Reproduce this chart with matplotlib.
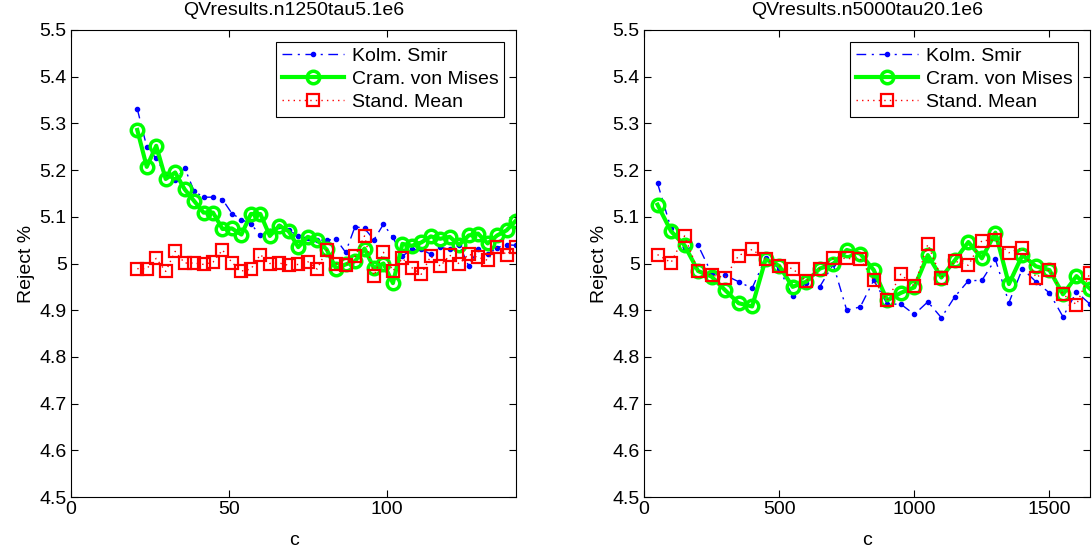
import matplotlib
matplotlib.use("Agg")
import matplotlib.pyplot as plt
from matplotlib.ticker import FormatStrFormatter

plt.rcParams['font.family'] = ['Liberation Sans', 'DejaVu Sans']

# left panel: n1250 tau5, c = 21, 24, ..., 141
c1 = [21, 24, 27, 30, 33, 36, 39, 42, 45, 48, 51, 54, 57, 60, 63, 66, 69, 72, 75, 78, 81,
      84, 87, 90, 93, 96, 99, 102, 105, 108, 111, 114, 117, 120, 123, 126, 129, 132, 135, 138, 141]
ks1 = [5.331, 5.250, 5.225, 5.190, 5.178, 5.205, 5.155, 5.142, 5.142, 5.137, 5.107, 5.094,
       5.085, 5.060, 5.070, 5.080, 5.072, 5.058, 5.055, 5.050, 5.050, 5.052, 5.024, 5.079,
       5.075, 5.051, 5.084, 5.056, 5.016, 5.030, 5.030, 5.020, 5.035, 5.030, 5.040, 4.995,
       5.030, 5.020, 5.034, 5.040, 5.039]
cvm1 = [5.286, 5.207, 5.252, 5.181, 5.195, 5.159, 5.134, 5.109, 5.109, 5.074, 5.075, 5.062,
        5.106, 5.106, 5.059, 5.081, 5.069, 5.035, 5.057, 5.050, 5.030, 4.989, 4.998, 5.005,
        5.032, 4.990, 5.000, 4.958, 5.042, 5.038, 5.045, 5.058, 5.053, 5.057, 5.040, 5.060,
        5.064, 5.043, 5.060, 5.071, 5.092]
sm1 = [4.989, 4.989, 5.011, 4.983, 5.026, 5.001, 5.001, 4.998, 5.003, 5.029, 5.002, 4.984,
       4.988, 5.019, 5.000, 5.001, 4.996, 4.998, 5.004, 4.988, 5.029, 5.000, 4.996, 5.015,
       5.059, 4.974, 5.024, 4.984, 5.011, 4.991, 4.977, 5.016, 4.994, 5.018, 4.999, 5.020,
       5.013, 5.007, 5.036, 5.019, 5.036]

# right panel: n5000 tau20, c = 50, 100, ..., 1650
c2 = [50, 100, 150, 200, 250, 300, 350, 400, 450, 500, 550, 600, 650, 700, 750, 800, 850,
      900, 950, 1000, 1050, 1100, 1150, 1200, 1250, 1300, 1350, 1400, 1450, 1500, 1550, 1600, 1650]
ks2 = [5.172, 5.075, 5.030, 5.039, 4.979, 4.975, 4.961, 4.947, 5.012, 4.989, 4.930, 4.959,
       4.950, 4.998, 4.900, 4.907, 4.964, 4.913, 4.913, 4.891, 4.918, 4.884, 4.929, 4.963,
       4.964, 5.009, 4.916, 4.989, 4.961, 4.937, 4.886, 4.939, 4.913]
cvm2 = [5.126, 5.069, 5.039, 4.984, 4.972, 4.943, 4.915, 4.908, 5.009, 4.995, 4.950, 4.961,
        4.989, 4.999, 5.029, 5.021, 4.986, 4.921, 4.937, 4.949, 5.018, 4.970, 5.007, 5.046,
        5.011, 5.066, 4.956, 5.018, 4.994, 4.986, 4.934, 4.973, 4.946]
sm2 = [5.019, 5.002, 5.059, 4.984, 4.975, 4.970, 5.017, 5.030, 5.009, 4.995, 4.989, 4.962,
       4.989, 5.011, 5.011, 5.009, 4.964, 4.921, 4.977, 4.951, 5.041, 4.970, 5.005, 4.996,
       5.049, 5.050, 5.023, 5.034, 4.970, 4.987, 4.934, 4.912, 4.980]

titles = ["QVresults.n1250tau5.1e6", "QVresults.n5000tau20.1e6"]
labels = ["Kolm. Smir", "Cram. von Mises", "Stand. Mean"]

fig = plt.figure(figsize=(10.92, 5.54), dpi=100)
ax1 = fig.add_axes([71 / 1092, 57 / 554, 445 / 1092, 467 / 554])
ax2 = fig.add_axes([644 / 1092, 57 / 554, 446 / 1092, 467 / 554])

panels = [(ax1, c1, ks1, cvm1, sm1, [0, 50, 100]),
          (ax2, c2, ks2, cvm2, sm2, [0, 500, 1000, 1500])]

fs = 14
for i, (ax, c, ks, cvm, sm, xt) in enumerate(panels):
    ax.plot(c, ks, color=(0, 0, 1), linestyle=(0, (7, 4, 1.5, 4)), linewidth=1, marker='.',
            markersize=6, label=labels[0])
    ax.plot(c, cvm, color=(0, 1, 0), linestyle='-', linewidth=3, marker='o',
            markersize=9, markeredgewidth=2.5, markerfacecolor='none', label=labels[1])
    ax.plot(c, sm, color=(1, 0, 0), linestyle=(0, (1, 3)), linewidth=1, marker='s',
            markersize=8.5, markeredgewidth=1.6, markerfacecolor='none', label=labels[2])
    ax.set_xlim(0, c[-1])
    ax.set_ylim(4.5, 5.5)
    ax.set_xticks(xt)
    ax.set_yticks([4.5 + 0.1 * k for k in range(11)])
    ax.yaxis.set_major_formatter(FormatStrFormatter('%g'))
    ax.tick_params(direction='in', top=True, right=True, length=5, width=0.8,
                   labelsize=fs, pad=3)
    for s in ax.spines.values():
        s.set_linewidth(0.8)
    ax.set_xlabel("c", fontsize=fs, labelpad=10)
    ax.set_ylabel("Reject %", fontsize=fs, labelpad=3)
    ax.set_title(titles[i], fontsize=fs, pad=11)
    leg = ax.legend(loc='upper right', fontsize=fs, frameon=True, fancybox=False,
                    edgecolor='black', framealpha=1, handlelength=3.2,
                    handletextpad=0.4, labelspacing=0.28, borderpad=0.3,
                    borderaxespad=0.6)
    leg.get_frame().set_linewidth(0.8)

fig.savefig("out.png", dpi=100)
